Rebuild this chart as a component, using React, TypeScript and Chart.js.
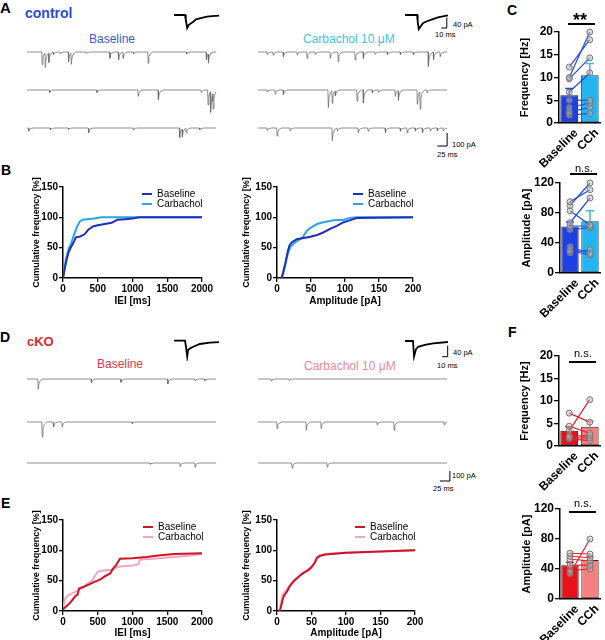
import React, { useEffect, useRef } from 'react';
import { Chart, registerables } from 'chart.js';

Chart.register(...registerables);
const FONT = '"Liberation Sans", Arial, Helvetica, sans-serif';
Chart.defaults.font.family = FONT;
Chart.defaults.color = '#000';

// ---------------- DATA ----------------
const barLabels = ['Baseline', 'CCh'];

// Panel C (control)
const cFreqBase = [12.3, 10.0, 9.7, 6.8, 5.0, 3.4, 2.4, 1.7];
const cFreqCCh = [18.3, 20.0, 14.3, 11.0, 5.0, 4.4, 3.4, 2.1];
const cFreqMean = [6.1, 10.5];
const cFreqSem = [1.5, 2.6];
const cAmpBase = [95, 90, 83, 67, 63, 58, 35, 30, 27];
const cAmpCCh = [111, 120, 64, 100, 62, 60, 26, 24, 31];
const cAmpMean = [62, 69];
const cAmpSem = [6, 14];

// Panel F (cKO)
const fFreqBase = [7.3, 4.4, 3.4, 2.2, 1.8, 1.6];
const fFreqCCh = [5.3, 2.8, 10.3, 2.3, 1.8, 1.2];
const fFreqMean = [3.4, 4.3];
const fFreqSem = [0.9, 1.2];
const fAmpBase = [61, 57, 53, 45, 38, 34];
const fAmpCCh = [60, 55, 51, 45, 40, 80];
const fAmpMean = [45, 52];
const fAmpSem = [4, 4];

// Panel B cumulative (control)
const ctrlIEIBaseX = [0, 30, 60, 80, 110, 150, 185, 240, 310, 360, 430, 500, 600, 700, 780, 900, 1000, 1100, 2000];
const ctrlIEIBaseY = [0, 18, 34, 42, 50, 58, 67, 68, 72, 79, 85, 87, 89, 91, 96, 97, 98, 100, 100];
const ctrlIEICChX = [0, 40, 80, 120, 160, 200, 240, 280, 350, 450, 550, 700, 2000];
const ctrlIEICChY = [0, 30, 48, 58, 72, 84, 93, 96, 97, 98, 100, 100, 100];
const ctrlAmpBaseX = [7, 12, 16, 18.5, 22, 29, 39, 49, 59, 68, 78, 88, 98, 107, 117, 200];
const ctrlAmpBaseY = [0, 23, 45, 54, 59, 64, 66, 68, 71, 75, 81, 86, 92, 95, 99, 100];
const ctrlAmpCChX = [7, 12, 16, 19.5, 27, 37, 44, 51, 59, 68, 83, 98, 107, 117, 200];
const ctrlAmpCChY = [0, 21, 40, 51, 59, 66, 78, 84, 89, 92, 95, 96, 99, 100, 100];

// Panel E cumulative (cKO)
const koIEIBaseX = [0, 40, 80, 120, 180, 210, 230, 300, 400, 450, 500, 550, 600, 680, 720, 760, 820, 1000, 1200, 1400, 1600, 2000];
const koIEIBaseY = [3, 7, 11, 16, 25, 27, 37, 40, 45, 48, 50, 53, 57, 62, 70, 75, 86, 87, 89, 92, 94, 95];
const koIEICChX = [0, 30, 70, 150, 230, 300, 350, 400, 450, 500, 600, 700, 800, 900, 1000, 1080, 1110, 1300, 1500, 1800, 2000];
const koIEICChY = [5, 20, 26, 30, 35, 40, 45, 48, 56, 65, 67, 68, 73, 74, 75, 77, 85, 86, 88, 91, 94];
const koAmpBaseX = [4, 6, 8, 10, 12, 15, 18, 22, 26, 30, 35, 40, 45, 50, 55, 58, 62, 70, 80, 100, 150, 200];
const koAmpBaseY = [0, 8, 18, 25, 28, 33, 40, 46, 51, 55, 60, 64, 67, 72, 80, 88, 91, 93, 94, 96, 98, 100];
const koAmpCChX = [4, 6, 8, 10, 13, 17, 22, 28, 35, 42, 48, 53, 57, 62, 70, 80, 100, 150, 200];
const koAmpCChY = [0, 15, 25, 30, 34, 40, 47, 54, 60, 66, 71, 78, 86, 90, 94, 95, 96, 98, 100];

// Example sweeps: events [time ms, amplitude pA]
const TRACE_MS = 480;
const ctrlBaseRow1 = [[38, 100], [46, 115], [55, 77], [67, 20], [84, 15], [105, 77], [112, 90], [150, 12], [210, 50], [232, 64], [244, 50], [270, 15], [307, 90], [405, 15], [455, 64], [460, 77]];
const ctrlBaseRow2 = [[57, 20], [177, 20], [282, 51], [333, 77], [442, 20], [459, 120], [466, 165], [472, 130]];
const ctrlBaseRow3 = [[4, 25], [59, 15], [105, 12], [156, 38], [269, 15], [387, 77], [394, 64], [404, 38], [438, 15]];
const ctrlCChRow1 = [[23, 20], [38, 25], [64, 38], [99, 20], [124, 51], [145, 20], [183, 51], [203, 77], [246, 64], [267, 51], [297, 20], [328, 20], [361, 20], [394, 20], [432, 115], [445, 64], [462, 38]];
const ctrlCChRow2 = [[23, 15], [43, 30], [64, 38], [178, 140], [188, 102], [196, 38], [251, 90], [267, 102], [290, 25], [305, 20], [348, 51], [356, 77], [404, 115], [411, 140], [429, 25]];
const ctrlCChRow3 = [[23, 20], [48, 64], [81, 20], [188, 102], [201, 25], [254, 38], [279, 25], [323, 38], [361, 25], [378, 38], [399, 25], [417, 38], [437, 25], [455, 20], [470, 25]];
const koBaseRow1 = [[28, 100], [163, 40], [238, 33], [357, 50], [426, 17], [451, 17]];
const koBaseRow2 = [[38, 150], [67, 50], [89, 50], [267, 17]];
const koBaseRow3 = [[313, 13], [388, 33], [426, 40]];
const koCChRow1 = [[33, 20], [79, 15]];
const koCChRow2 = [[48, 67], [122, 83], [160, 67], [302, 27], [345, 83], [472, 27]];
const koCChRow3 = [[86, 50], [175, 40]];

// Averaged mEPSCs [ms], [pA]
const ctrlAvgBaseT = [0, 20, 21.5, 24, 27, 35, 40, 47, 60, 69, 82];
const ctrlAvgBaseV = [0, 0, -20, -50, -38, -26, -17, -13, -6.5, -4.6, -2.7];
const ctrlAvgCChT = [0, 22, 23, 25, 29, 33, 40, 47, 60, 78];
const ctrlAvgCChV = [0, 0, -25, -54, -42, -31, -24, -19, -9, -1];
const koAvgBaseT = [0, 20, 22, 24, 25.5, 30, 35, 47, 65, 82];
const koAvgBaseV = [0, 0, -25, -58, -34, -27, -22, -12, -7, -5];
const koAvgCChT = [0, 14.5, 15.5, 16.4, 20, 24, 36, 51, 78];
const koAvgCChV = [0, 0, -30, -57, -30, -21, -14.5, -8.4, -3.6];

// Event template: [ms offset], [fraction of amplitude]
const EVENT_SHAPE_T = [-0.5, 0.5, 2.5, 6, 12];
const EVENT_SHAPE_F = [0, 1, 0.4, 0.15, 0];

// ---------------- HELPERS ----------------
type XY = { x: number; y: number };
const zipXY = (xs: number[], ys: number[]): XY[] => xs.map((x, i) => ({ x, y: ys[i] }));

function shapeAt(dt: number) {
  const n = EVENT_SHAPE_T.length;
  if (dt <= EVENT_SHAPE_T[0] || dt >= EVENT_SHAPE_T[n - 1]) return 0;
  for (let i = 1; i < n; i++) {
    if (dt <= EVENT_SHAPE_T[i]) {
      const a = EVENT_SHAPE_T[i - 1];
      const b = EVENT_SHAPE_T[i];
      const f = (dt - a) / (b - a);
      return EVENT_SHAPE_F[i - 1] + f * (EVENT_SHAPE_F[i] - EVENT_SHAPE_F[i - 1]);
    }
  }
  return 0;
}

function buildTrace(events: number[][], duration: number, offset: number): XY[] {
  const ts = new Set<number>([0, duration]);
  events.forEach(([t]) =>
    EVENT_SHAPE_T.forEach((dt) => {
      const tt = t + dt;
      if (tt > 0 && tt < duration) ts.add(tt);
    })
  );
  return [...ts]
    .sort((a, b) => a - b)
    .map((t) => ({ x: t, y: offset - events.reduce((s, [te, a]) => s + a * shapeAt(t - te), 0) }));
}

const baseOpts = {
  responsive: false,
  animation: false,
  devicePixelRatio: 1,
  events: [],
};

type Series = { pts: XY[]; color: string; lw: number };

function traceConfig(p: { width: number; height: number; x0: number; y0: number; pxPerMs: number; pxPerPA: number; series: Series[] }) {
  return {
    type: 'line',
    data: {
      datasets: p.series.map((s) => ({
        data: s.pts,
        borderColor: s.color,
        borderWidth: s.lw,
        pointRadius: 0,
        tension: 0,
        fill: false,
        clip: false,
      })),
    },
    options: {
      ...baseOpts,
      layout: { padding: 0 },
      plugins: { legend: { display: false }, tooltip: { enabled: false } },
      scales: {
        x: { type: 'linear', display: false, min: -p.x0 / p.pxPerMs, max: (p.width - p.x0) / p.pxPerMs },
        y: { type: 'linear', display: false, min: -(p.height - p.y0) / p.pxPerPA, max: p.y0 / p.pxPerPA },
      },
    },
  };
}

function scaleBar(tEnd: number, yBottom: number, ms: number, pA: number): Series {
  return {
    pts: [
      { x: tEnd - ms, y: yBottom },
      { x: tEnd, y: yBottom },
      { x: tEnd, y: yBottom + pA },
    ],
    color: '#000',
    lw: 1,
  };
}

const tickFont = { size: 10, weight: 'bold' as const, family: FONT };
const titleFont = { size: 10, weight: 'bold' as const, family: FONT };
const yTitleFont = { size: 9, weight: 'bold' as const, family: FONT };

function cumConfig(p: { xMax: number; xStep: number; xTitle: string; yAxisW: number; xAxisH: number; padTop: number; padRight: number; series: { x: number[]; y: number[]; color: string }[] }) {
  return {
    type: 'line',
    data: {
      datasets: p.series.map((s) => ({
        data: zipXY(s.x, s.y),
        borderColor: s.color,
        borderWidth: 2,
        pointRadius: 0,
        tension: 0,
        fill: false,
      })),
    },
    options: {
      ...baseOpts,
      layout: { padding: { top: p.padTop, right: p.padRight, left: 0, bottom: 0 } },
      plugins: { legend: { display: false }, tooltip: { enabled: false } },
      scales: {
        x: {
          type: 'linear',
          min: 0,
          max: p.xMax,
          afterFit: (s: any) => { s.height = p.xAxisH; },
          ticks: { stepSize: p.xStep, font: tickFont, color: '#000', padding: 1, maxRotation: 0, autoSkip: false, callback: (v: any) => String(v) },
          grid: { drawOnChartArea: false, drawTicks: true, tickLength: 4, color: '#000', lineWidth: 1.3 },
          border: { display: true, color: '#000', width: 1.5 },
          title: { display: true, text: p.xTitle, font: titleFont, color: '#000', padding: 0 },
        },
        y: {
          type: 'linear',
          min: 0,
          max: 150,
          afterFit: (s: any) => { s.width = p.yAxisW; },
          ticks: { stepSize: 50, font: tickFont, color: '#000', padding: 1, callback: (v: any) => String(v) },
          grid: { drawOnChartArea: false, drawTicks: true, tickLength: 4, color: '#000', lineWidth: 1.3 },
          border: { display: true, color: '#000', width: 1.5 },
          title: { display: true, text: 'Cumulative frequency [%]', font: yTitleFont, color: '#000', padding: 0 },
        },
      },
    },
  };
}

const errorBarPlugin = {
  id: 'errbars',
  afterDatasetDraw(chart: any, args: any, opts: any) {
    if (args.index !== 0 || !opts || !opts.sems) return;
    const meta = chart.getDatasetMeta(0);
    const y = chart.scales.y;
    const ctx = chart.ctx;
    const vals = chart.data.datasets[0].data;
    ctx.save();
    meta.data.forEach((bar: any, i: number) => {
      const top = y.getPixelForValue(vals[i] + opts.sems[i]);
      const bottom = y.getPixelForValue(vals[i]);
      ctx.strokeStyle = opts.colors[i];
      ctx.lineWidth = 1.5;
      ctx.beginPath();
      ctx.moveTo(bar.x, bottom);
      ctx.lineTo(bar.x, top);
      ctx.moveTo(bar.x - 4, top);
      ctx.lineTo(bar.x + 4, top);
      ctx.stroke();
    });
    ctx.restore();
  },
};

function barConfig(p: {
  yMax: number; yStep: number; labelEvery: number; yTitle: string;
  means: number[]; sems: number[]; base: number[]; cch: number[];
  barColors: string[]; barBorders: string[]; errColors: string[]; lineColor: string;
  yAxisW: number; xAxisH: number; padTop: number; padRight: number;
}) {
  const bFont = { size: 12, weight: 'bold' as const, family: FONT };
  return {
    type: 'bar',
    data: {
      labels: barLabels,
      datasets: [
        {
          type: 'bar',
          data: p.means,
          backgroundColor: p.barColors,
          borderColor: p.barBorders,
          borderWidth: 1,
          borderSkipped: false,
          barPercentage: 0.87,
          categoryPercentage: 1,
          order: 10,
        },
        ...p.base.map((b, i) => ({
          type: 'line',
          data: [b, p.cch[i]],
          borderColor: p.lineColor,
          borderWidth: 1.2,
          pointRadius: 3,
          pointBackgroundColor: 'rgba(185,185,185,0.5)',
          pointBorderColor: '#777',
          pointBorderWidth: 1,
          tension: 0,
          fill: false,
          clip: false,
          order: 1,
        })),
      ],
    },
    plugins: [errorBarPlugin],
    options: {
      ...baseOpts,
      layout: { padding: { top: p.padTop, right: p.padRight, left: 0, bottom: 0 } },
      plugins: {
        legend: { display: false },
        tooltip: { enabled: false },
        errbars: { sems: p.sems, colors: p.errColors },
      },
      scales: {
        x: {
          type: 'category',
          offset: true,
          afterFit: (s: any) => { s.height = p.xAxisH; },
          grid: { display: false },
          border: { display: true, color: '#000', width: 1.5 },
          ticks: { font: bFont, color: '#000', minRotation: 45, maxRotation: 45, padding: -5, labelOffset: 7, autoSkip: false },
        },
        y: {
          type: 'linear',
          min: 0,
          max: p.yMax,
          afterFit: (s: any) => { s.width = p.yAxisW; },
          ticks: { stepSize: p.yStep, font: bFont, color: '#000', padding: 1, callback: (v: any) => (v % p.labelEvery === 0 ? String(v) : '') },
          grid: { drawOnChartArea: false, drawTicks: true, tickLength: 5, color: '#000', lineWidth: 1.3 },
          border: { display: true, color: '#000', width: 1.5 },
          title: { display: true, text: p.yTitle, font: { size: 11, weight: 'bold' as const, family: FONT }, color: '#000', padding: 0 },
        },
      },
    },
  };
}

// ---------------- COMPONENTS ----------------
type Box = { left: number; top: number; width: number; height: number };

function ChartBox({ box, make }: { box: Box; make: () => any }) {
  const ref = useRef<HTMLCanvasElement>(null);
  useEffect(() => {
    const c = new Chart(ref.current as HTMLCanvasElement, make());
    return () => c.destroy();
  }, []);
  return (
    <canvas
      ref={ref}
      width={box.width}
      height={box.height}
      style={{ position: 'absolute', left: box.left, top: box.top, width: box.width, height: box.height }}
    />
  );
}

function T({ x, y, s, bold, color, children }: { x: number; y: number; s: number; bold?: boolean; color?: string; children: any }) {
  return (
    <div
      style={{
        position: 'absolute', left: x, top: y, fontSize: s, lineHeight: 1,
        fontWeight: bold ? 700 : 400, color: color || '#000', whiteSpace: 'nowrap', fontFamily: FONT,
      }}
    >
      {children}
    </div>
  );
}

function HLine({ x, y, w, h, color }: { x: number; y: number; w: number; h: number; color: string }) {
  return <div style={{ position: 'absolute', left: x, top: y, width: w, height: h, background: color }} />;
}

// Trace panel geometry
const PX_PER_MS = 0.394;
const A_ROWS = [52, 90, 128];
const D_ROWS = [379, 422, 463];
const A_PX_PER_PA = 0.125;
const D_PX_PER_PA = 0.1;
const TRACE_COLOR = '#6a6a6a';

function rowsChart(box: Box, rowsPx: number[], pxPerPA: number, rows: number[][][], bar?: { tEnd: number; below: number; ms: number; pA: number }) {
  const offs = rowsPx.map((r) => -(r - rowsPx[0]) / pxPerPA);
  const series: Series[] = rows.map((ev, k) => ({ pts: buildTrace(ev, TRACE_MS, offs[k]), color: TRACE_COLOR, lw: 0.75 }));
  if (bar) series.push(scaleBar(bar.tEnd, offs[2] - bar.below, bar.ms, bar.pA));
  return () => traceConfig({ width: box.width, height: box.height, x0: 2, y0: rowsPx[0] - box.top, pxPerMs: PX_PER_MS, pxPerPA, series });
}

function avgChart(box: Box, y0: number, pxPerPA: number, t: number[], v: number[], bar?: { tEnd: number; bottom: number; ms: number; pA: number }) {
  const series: Series[] = [{ pts: zipXY(t, v), color: '#000', lw: 1.8 }];
  if (bar) series.push(scaleBar(bar.tEnd, bar.bottom, bar.ms, bar.pA));
  return () => traceConfig({ width: box.width, height: box.height, x0: 2, y0, pxPerMs: 0.55, pxPerPA, series });
}

const CTRL_BASE = '#1c32b8';
const CTRL_CCH = '#2ba2ea';
const KO_BASE = '#cc1424';
const KO_CCH = '#f2a6c6';

function Legend({ x, y, c1, c2 }: { x: number; y: number; c1: string; c2: string }) {
  return (
    <>
      <HLine x={x} y={y - 1} w={10} h={2} color={c1} />
      <HLine x={x} y={y + 9} w={10} h={2} color={c2} />
      <T x={x + 15} y={y - 5} s={10}>Baseline</T>
      <T x={x + 15} y={y + 5} s={10}>Carbachol</T>
    </>
  );
}

export default function App() {
  const aLeft = { left: 25, top: 40, width: 198, height: 112 };
  const aRight = { left: 256, top: 40, width: 198, height: 112 };
  const dLeft = { left: 25, top: 368, width: 198, height: 110 };
  const dRight = { left: 256, top: 368, width: 198, height: 120 };
  const aAvg1 = { left: 172, top: 6, width: 52, height: 26 };
  const aAvg2 = { left: 403, top: 6, width: 52, height: 26 };
  const dAvg1 = { left: 172, top: 333, width: 52, height: 28 };
  const dAvg2 = { left: 403, top: 333, width: 52, height: 28 };

  return (
    <div style={{ position: 'absolute', left: 0, top: 0, width: 605, height: 640, background: '#fff', overflow: 'hidden', fontFamily: FONT }}>
      {/* Panel letters and headings */}
      <T x={0} y={0} s={15} bold>A</T>
      <T x={25} y={6} s={14} bold color="#2a4bd8">control</T>
      <T x={89} y={33.4} s={12} color="#3a5ad8">Baseline</T>
      <T x={303} y={33.4} s={12} color="#3cc6e4">Carbachol 10 μM</T>
      <T x={453} y={21} s={7.5}>40 pA</T>
      <T x={435} y={31} s={7.5}>10 ms</T>
      <T x={452} y={141} s={7.5}>100 pA</T>
      <T x={437} y={151} s={7.5}>25 ms</T>
      <T x={1} y={163} s={14} bold>B</T>
      <T x={507} y={3} s={14} bold>C</T>
      <T x={0} y={330} s={14} bold>D</T>
      <T x={27} y={335} s={13} bold color="#e0262a">cKO</T>
      <T x={97} y={358.4} s={12} color="#d83a48">Baseline</T>
      <T x={304} y={360.4} s={12} color="#ec8a94">Carbachol 10 μM</T>
      <T x={453} y={349} s={7.5}>40 pA</T>
      <T x={437} y={362} s={7.5}>10 ms</T>
      <T x={452} y={472} s={7.5}>100 pA</T>
      <T x={433} y={485} s={7.5}>25 ms</T>
      <T x={1} y={496} s={14} bold>E</T>
      <T x={508} y={325} s={14} bold>F</T>

      {/* A traces */}
      <ChartBox box={aAvg1} make={avgChart(aAvg1, 9, 0.26, ctrlAvgBaseT, ctrlAvgBaseV)} />
      <ChartBox box={aAvg2} make={avgChart(aAvg2, 9, 0.26, ctrlAvgCChT, ctrlAvgCChV, { tEnd: 76, bottom: -50, ms: 10, pA: 40 })} />
      <ChartBox box={aLeft} make={rowsChart(aLeft, A_ROWS, A_PX_PER_PA, [ctrlBaseRow1, ctrlBaseRow2, ctrlBaseRow3])} />
      <ChartBox box={aRight} make={rowsChart(aRight, A_ROWS, A_PX_PER_PA, [ctrlCChRow1, ctrlCChRow2, ctrlCChRow3], { tEnd: 480, below: 144, ms: 25, pA: 104 })} />

      {/* D traces */}
      <ChartBox box={dAvg1} make={avgChart(dAvg1, 7.7, 0.275, koAvgBaseT, koAvgBaseV)} />
      <ChartBox box={dAvg2} make={avgChart(dAvg2, 8, 0.275, koAvgCChT, koAvgCChV, { tEnd: 77.6, bottom: -57, ms: 10, pA: 40 })} />
      <ChartBox box={dLeft} make={rowsChart(dLeft, D_ROWS, D_PX_PER_PA, [koBaseRow1, koBaseRow2, koBaseRow3])} />
      <ChartBox box={dRight} make={rowsChart(dRight, D_ROWS, D_PX_PER_PA, [koCChRow1, koCChRow2, koCChRow3], { tEnd: 487, below: 180, ms: 25, pA: 100 })} />

      {/* B cumulative */}
      <ChartBox
        box={{ left: 31, top: 177, width: 191, height: 130 }}
        make={() => cumConfig({ xMax: 2000, xStep: 500, xTitle: 'IEI [ms]', yAxisW: 32, xAxisH: 29, padTop: 10, padRight: 20, series: [
          { x: ctrlIEIBaseX, y: ctrlIEIBaseY, color: CTRL_BASE },
          { x: ctrlIEICChX, y: ctrlIEICChY, color: CTRL_CCH },
        ] })}
      />
      <ChartBox
        box={{ left: 241, top: 177, width: 192, height: 130 }}
        make={() => cumConfig({ xMax: 200, xStep: 50, xTitle: 'Amplitude [pA]', yAxisW: 36, xAxisH: 29, padTop: 10, padRight: 20, series: [
          { x: ctrlAmpBaseX, y: ctrlAmpBaseY, color: CTRL_BASE },
          { x: ctrlAmpCChX, y: ctrlAmpCChY, color: CTRL_CCH },
        ] })}
      />
      <Legend x={142} y={194} c1={CTRL_BASE} c2={CTRL_CCH} />
      <Legend x={353} y={194} c1={CTRL_BASE} c2={CTRL_CCH} />

      {/* E cumulative */}
      <ChartBox
        box={{ left: 31, top: 510, width: 191, height: 129 }}
        make={() => cumConfig({ xMax: 2000, xStep: 500, xTitle: 'IEI [ms]', yAxisW: 32, xAxisH: 28, padTop: 10, padRight: 20, series: [
          { x: koIEIBaseX, y: koIEIBaseY, color: KO_BASE },
          { x: koIEICChX, y: koIEICChY, color: KO_CCH },
        ] })}
      />
      <ChartBox
        box={{ left: 241, top: 510, width: 194, height: 129 }}
        make={() => cumConfig({ xMax: 200, xStep: 50, xTitle: 'Amplitude [pA]', yAxisW: 36, xAxisH: 28, padTop: 10, padRight: 20, series: [
          { x: koAmpBaseX, y: koAmpBaseY, color: KO_BASE },
          { x: koAmpCChX, y: koAmpCChY, color: KO_CCH },
        ] })}
      />
      <Legend x={143} y={527} c1={KO_BASE} c2={KO_CCH} />
      <Legend x={355} y={527} c1={KO_BASE} c2={KO_CCH} />

      {/* C bars */}
      <ChartBox
        box={{ left: 518, top: 22, width: 87, height: 151 }}
        make={() => barConfig({ yMax: 20, yStep: 5, labelEvery: 5, yTitle: 'Frequency [Hz]', means: cFreqMean, sems: cFreqSem, base: cFreqBase, cch: cFreqCCh,
          barColors: ['#1f3fe0', '#22b5f2'], barBorders: ['#0c1a6a', '#0c3a5a'], errColors: ['#1f3fe0', '#3ab8f0'], lineColor: '#2448d8',
          yAxisW: 41, xAxisH: 50, padTop: 10, padRight: 1 })}
      />
      <ChartBox
        box={{ left: 520, top: 173, width: 85, height: 150 }}
        make={() => barConfig({ yMax: 120, yStep: 20, labelEvery: 40, yTitle: 'Amplitude [pA]', means: cAmpMean, sems: cAmpSem, base: cAmpBase, cch: cAmpCCh,
          barColors: ['#1f3fe0', '#22b5f2'], barBorders: ['#0c1a6a', '#0c3a5a'], errColors: ['#1f3fe0', '#3ab8f0'], lineColor: '#2448d8',
          yAxisW: 40, xAxisH: 50, padTop: 10, padRight: 1 })}
      />
      <T x={573} y={10.7} s={18} bold>**</T>
      <HLine x={568} y={23} w={27} h={2} color="#000" />
      <T x={575} y={162.7} s={11}>n.s.</T>
      <HLine x={570} y={173} w={27} h={2} color="#000" />

      {/* F bars */}
      <ChartBox
        box={{ left: 518, top: 346, width: 87, height: 150 }}
        make={() => barConfig({ yMax: 20, yStep: 5, labelEvery: 5, yTitle: 'Frequency [Hz]', means: fFreqMean, sems: fFreqSem, base: fFreqBase, cch: fFreqCCh,
          barColors: ['#e8101a', '#f58080'], barBorders: ['#4a0808', '#4a1a1a'], errColors: ['#e8101a', '#f58080'], lineColor: '#e0202a',
          yAxisW: 41, xAxisH: 50, padTop: 10, padRight: 1 })}
      />
      <ChartBox
        box={{ left: 520, top: 499, width: 85, height: 141 }}
        make={() => barConfig({ yMax: 120, yStep: 20, labelEvery: 40, yTitle: 'Amplitude [pA]', means: fAmpMean, sems: fAmpSem, base: fAmpBase, cch: fAmpCCh,
          barColors: ['#e8101a', '#f58080'], barBorders: ['#4a0808', '#4a1a1a'], errColors: ['#e8101a', '#f58080'], lineColor: '#e0202a',
          yAxisW: 40, xAxisH: 41, padTop: 10, padRight: 1 })}
      />
      <T x={574} y={347.7} s={11}>n.s.</T>
      <HLine x={569} y={361} w={27} h={2} color="#000" />
      <T x={574} y={497.7} s={11}>n.s.</T>
      <HLine x={569} y={511} w={27} h={2} color="#000" />
    </div>
  );
}
